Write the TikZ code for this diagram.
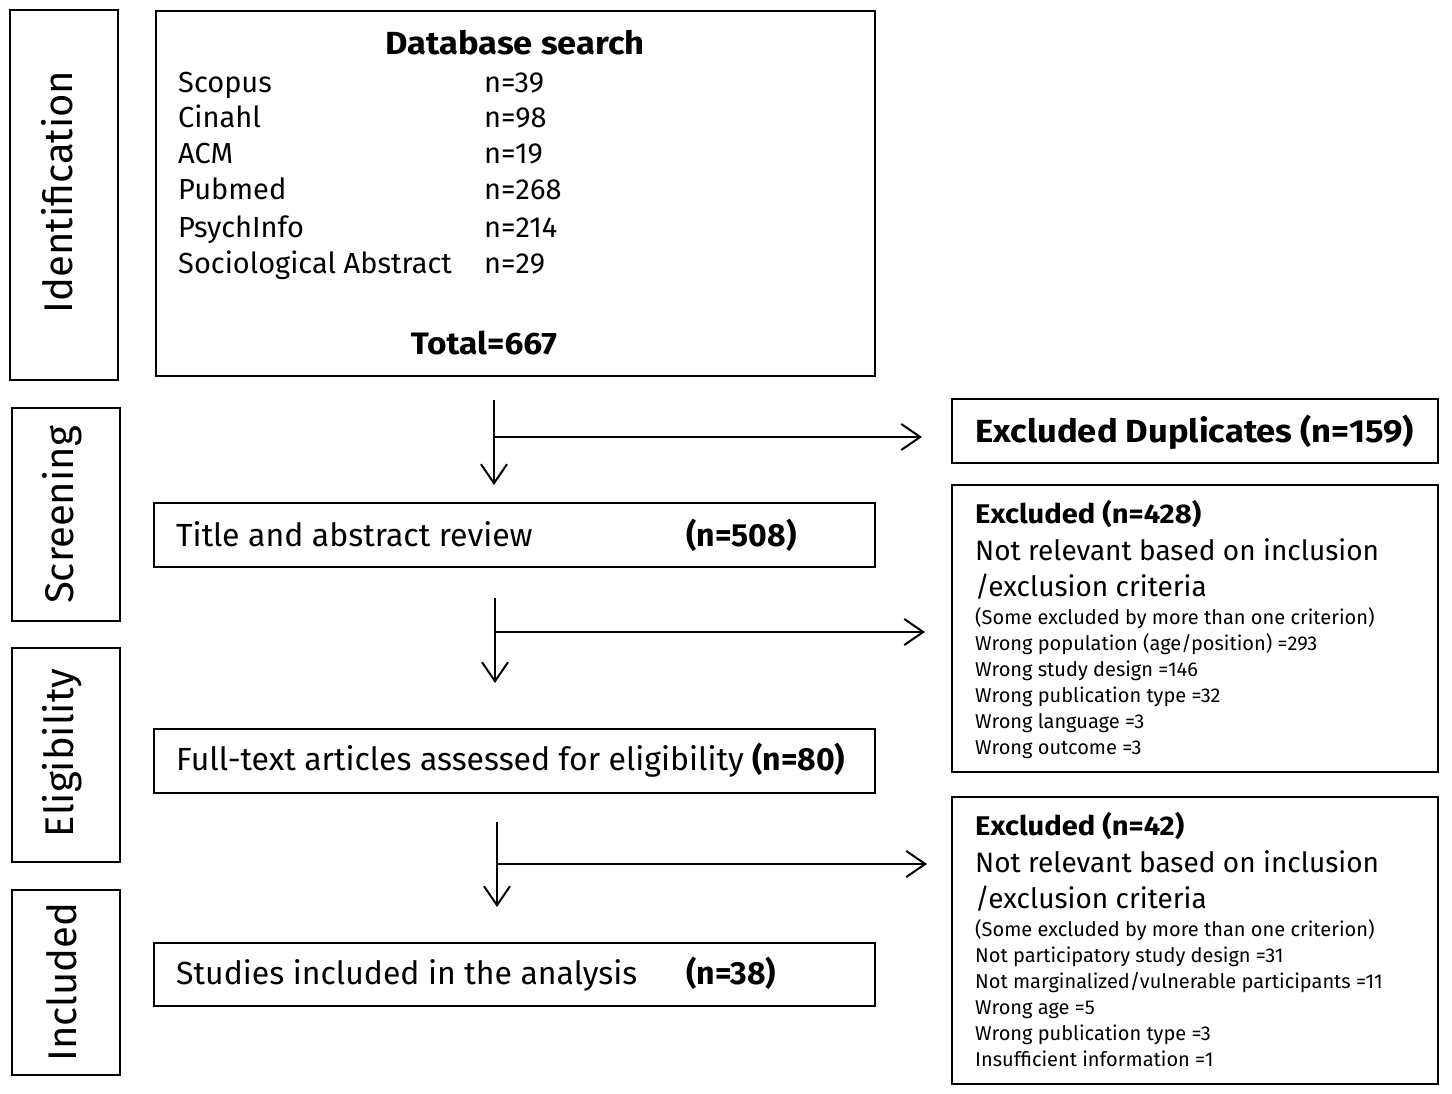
\documentclass[tikz,border=0pt]{standalone}
\usepackage{fontspec}
\setmainfont{Fira Sans}
\newfontfamily\hvy{Fira Sans}[FakeStretch=1.08]
\usetikzlibrary{arrows.meta}
\tikzset{
  box/.style={draw=black, line width=2pt, inner sep=0pt},
  stagebox/.style={draw=black, line width=1.3pt, inner sep=0pt},
  txt/.style={inner sep=0pt, anchor=base west},
  stage/.style={inner sep=0pt, rotate=90, font=\fontsize{40}{42}\selectfont},
  big/.style={font=\fontsize{29}{32}\selectfont},
  rbig/.style={font=\fontsize{28}{32}\selectfont},
  flowtxt/.style={font=\fontsize{32}{34}\selectfont},
  flowb/.style={font=\fontsize{32}{34}\selectfont\bfseries},
  hbig/.style={font=\fontsize{27}{30}\selectfont\hvy\bfseries},
  small/.style={font=\fontsize{20}{22}\selectfont},
  flow/.style={line width=2pt, -{Straight Barb[length=19pt,width=26pt,line width=2pt]}}
}
\begin{document}
\begin{tikzpicture}[x=1pt,y=-1pt]
\useasboundingbox (0,0) rectangle (1452,1094);
% stage boxes
\draw[stagebox] (10,10) rectangle (118,380);
\draw[stagebox] (12,408) rectangle (120,621);
\draw[stagebox] (12,648) rectangle (120,862);
\draw[stagebox] (12,890) rectangle (120,1075);
\node[stage] (sid) at (57,192) {Identification};
\node[stage] (ssc) at (62,515) {Screening};
\node[stage] (sel) at (62,753) {Eligibility};
\node[stage] (sin) at (62,982) {Included};
% main boxes
\node[box, anchor=north west, minimum width=719pt, minimum height=365pt] (db) at (155,10) {};
\node[box, anchor=north west, minimum width=721pt, minimum height=64pt] (ta) at (153,502) {};
\node[box, anchor=north west, minimum width=721pt, minimum height=64pt] (ft) at (153,728) {};
\node[box, anchor=north west, minimum width=721pt, minimum height=63pt] (st) at (153,942) {};
\node[box, anchor=north west, minimum width=486pt, minimum height=64pt] (dup) at (951,398) {};
\node[box, anchor=north west, minimum width=486pt, minimum height=287pt] (ex1) at (951,484) {};
\node[box, anchor=north west, minimum width=486pt, minimum height=287pt] (ex2) at (951,796) {};
% database text
\node[inner sep=0pt, anchor=base, font=\fontsize{32}{34}\selectfont\hvy\bfseries] (dbt) at (515,55) {Database search};
\node[txt,big] (n1) at (178,93) {Scopus};
\node[txt,big] (n2) at (178,128) {Cinahl};
\node[txt,big] (n3) at (178,164) {ACM};
\node[txt,big] (n4) at (178,200) {Pubmed};
\node[txt,big] (n5) at (178,238) {PsychInfo};
\node[txt,big] (n6) at (178,274) {Sociological Abstract};
\node[txt,big] (v1) at (484,93) {n=39};
\node[txt,big] (v2) at (484,128) {n=98};
\node[txt,big] (v3) at (484,164) {n=19};
\node[txt,big] (v4) at (484,200) {n=268};
\node[txt,big] (v5) at (484,238) {n=214};
\node[txt,big] (v6) at (484,274) {n=29};
\node[inner sep=0pt, anchor=base, font=\fontsize{31}{33}\selectfont\hvy\bfseries] (tot) at (484,354) {Total=667};
% left flow texts
\node[txt,flowtxt] (tat) at (176,546) {Title and abstract review};
\node[txt,flowb] (tan) at (686,546) {(n=508)};
\node[txt,flowtxt] (ftt) at (176,770) {Full-text articles assessed for eligibility \textbf{(n=80)}};
\node[txt,flowtxt] (stt) at (176,984) {Studies included in the analysis};
\node[txt,flowb] (stn) at (686,984) {(n=38)};
% right texts
\node[txt,font=\fontsize{32}{34}\selectfont\hvy\bfseries] (dupt) at (975,442) {Excluded Duplicates (n=159)};
\node[txt,hbig] (e1a) at (975,523) {Excluded (n=428)};
\node[txt,rbig] (e1b) at (975,560) {Not relevant based on inclusion};
\node[txt,rbig] (e1c) at (975,596) {/exclusion criteria};
\node[txt,small] (e1d) at (975,624) {(Some excluded by more than one criterion)};
\node[txt,small] (e1e) at (975,650) {Wrong population (age/position) =293};
\node[txt,small] (e1f) at (975,676) {Wrong study design =146};
\node[txt,small] (e1g) at (975,702) {Wrong publication type =32};
\node[txt,small] (e1h) at (975,728) {Wrong language =3};
\node[txt,small] (e1i) at (975,754) {Wrong outcome =3};
\node[txt,hbig] (e2a) at (975,835) {Excluded (n=42)};
\node[txt,rbig] (e2b) at (975,872) {Not relevant based on inclusion};
\node[txt,rbig] (e2c) at (975,908) {/exclusion criteria};
\node[txt,small] (e2d) at (975,936) {(Some excluded by more than one criterion)};
\node[txt,small] (e2e) at (975,962) {Not participatory study design =31};
\node[txt,small] (e2f) at (975,988) {Not marginalized/vulnerable participants =11};
\node[txt,small] (e2g) at (975,1014) {Wrong age =5};
\node[txt,small] (e2h) at (975,1040) {Wrong publication type =3};
\node[txt,small] (e2i) at (975,1066) {Insufficient information =1};
% connectors
\coordinate (a1s) at (494,400);
\coordinate (a1e) at (494,485);
\coordinate (a1j) at (494,437);
\coordinate (a1r) at (922,437);
\draw[flow] (a1s) -- (a1e);
\draw[flow] (a1j) -- (a1r);
\coordinate (a2s) at (495,598);
\coordinate (a2e) at (495,683);
\coordinate (a2j) at (495,632);
\coordinate (a2r) at (925,632);
\draw[flow] (a2s) -- (a2e);
\draw[flow] (a2j) -- (a2r);
\coordinate (a3s) at (497,822);
\coordinate (a3e) at (497,907);
\coordinate (a3j) at (497,864);
\coordinate (a3r) at (927,864);
\draw[flow] (a3s) -- (a3e);
\draw[flow] (a3j) -- (a3r);
\end{tikzpicture}
\end{document}
